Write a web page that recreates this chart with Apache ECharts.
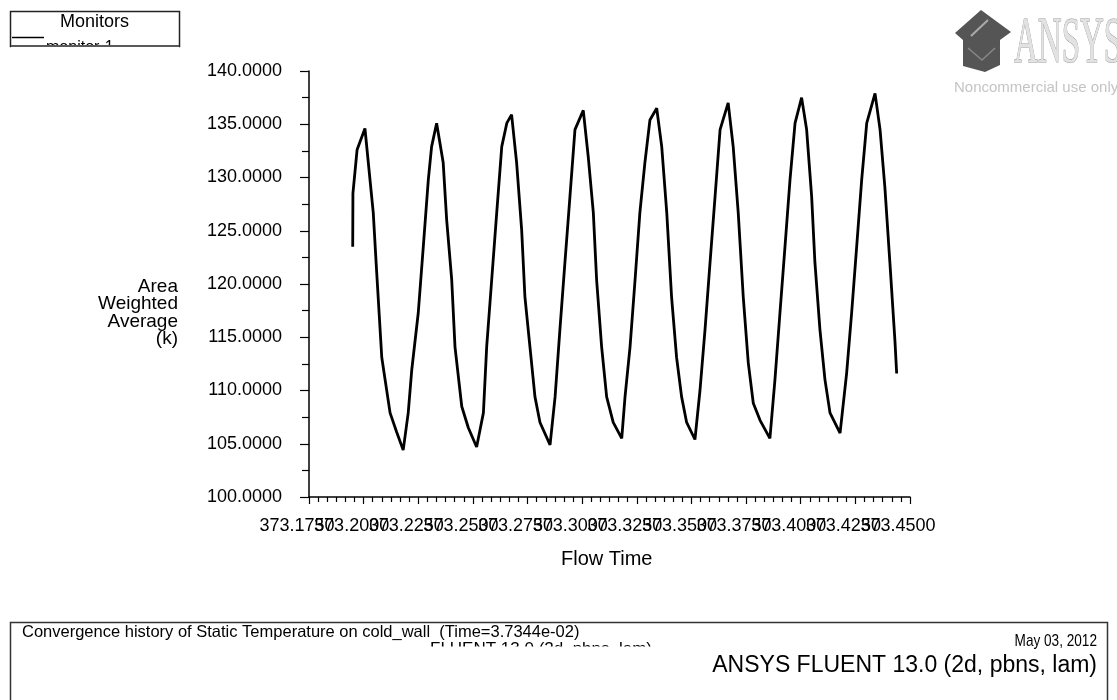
<!DOCTYPE html>
<html>
<head>
<meta charset="utf-8">
<script src="https://cdn.jsdelivr.net/npm/echarts@6/dist/echarts.min.js"></script>
<style>html,body{margin:0;padding:0;background:#fff}#c{width:1117px;height:700px}</style>
</head>
<body>
<div id="c"></div>
<script>
// ---- data ----
const flowTime = [
  373.1950,373.1951,373.1970,373.2006,373.2044,373.2060,373.2083,373.2121,373.2151,373.2181,
  373.2204,373.2220,373.2250,373.2273,373.2296,373.2311,373.2334,373.2364,373.2380,373.2403,
  373.2418,373.2449,373.2479,373.2517,373.2548,373.2563,373.2586,373.2609,373.2632,373.2655,
  373.2677,373.2700,373.2723,373.2738,373.2761,373.2784,373.2807,373.2853,373.2876,373.2898,
  373.2921,373.2944,373.2967,373.3005,373.3028,373.3051,373.3066,373.3089,373.3112,373.3142,
  373.3181,373.3196,373.3219,373.3242,373.3264,373.3287,373.3310,373.3341,373.3364,373.3387,
  373.3409,373.3432,373.3455,373.3478,373.3516,373.3539,373.3562,373.3585,373.3608,373.3631,
  373.3668,373.3691,373.3714,373.3737,373.3760,373.3783,373.3814,373.3859,373.3882,373.3905,
  373.3928,373.3951,373.3974,373.4004,373.4027,373.4050,373.4065,373.4088,373.4111,373.4134,
  373.4180,373.4210,373.4233,373.4256,373.4279,373.4302,373.4340,373.4363,373.4385,373.4408,
  373.4431,373.4439
];
const temperature = [
  123.5,128.5,132.6,134.6,126.7,121.0,113.1,107.9,106.1,104.4,
  107.9,111.9,117.3,123.5,129.8,132.9,135.1,131.4,126.0,120.4,
  114.1,108.5,106.5,104.7,107.9,114.1,120.4,126.7,132.9,135.1,
  135.9,131.4,125.1,118.8,114.1,109.4,107.0,104.9,109.4,115.7,
  122.0,128.2,134.5,136.3,131.9,126.7,120.4,114.1,109.4,107.0,
  105.5,109.4,114.1,120.4,126.7,131.4,135.4,136.5,132.9,126.7,
  118.8,113.1,109.4,107.0,105.4,110.0,115.7,122.0,128.2,134.5,
  137.0,132.9,126.7,118.8,112.6,108.8,107.2,105.5,111.0,117.3,
  123.5,129.8,135.1,137.5,134.5,128.2,122.0,115.7,111.0,107.9,
  106.0,111.6,117.3,123.5,129.8,135.1,137.9,134.5,129.1,122.0,
  114.7,111.6
];
const seriesName = 'monitor-1';
const xAxisTitle = 'Flow Time';
const yAxisTitle = ['Area', 'Weighted', 'Average', '(k)'];
const legendTitle = 'Monitors';
const footerTitle = 'Convergence history of Static Temperature on cold_wall  (Time=3.7344e-02)';
const footerHidden = 'FLUENT 13.0 (2d, pbns, lam)';
const footerDate = 'May 03, 2012';
const footerVersion = 'ANSYS FLUENT 13.0 (2d, pbns, lam)';
const logoWord = 'ANSYS';
const logoNote = 'Noncommercial use only';
const xMin = 373.175, xMax = 373.45, xStep = 0.025;
const yMin = 100, yMax = 140, yStep = 5;

const pts = flowTime.map((t, i) => [t, temperature[i]]);
const chart = echarts.init(document.getElementById('c'), null, {renderer: 'canvas'});
const labelFont = '"Liberation Sans", Arial, sans-serif';
const narrowFont = '"Liberation Sans Narrow", "Liberation Sans", Arial, sans-serif';

// tick labels overlap in the reference; split them over two coincident axes
// (even / odd ticks) so the library does not drop any of them
function tickLabel(parity) {
  return v => (Math.round((v - xMin) / xStep) % 2 === parity) ? v.toFixed(4) : '';
}
const xLabelStyle = {color: '#000', fontSize: 18, fontFamily: labelFont, margin: 20,
  showMinLabel: true, showMaxLabel: true, hideOverlap: false, padding: [0, 24, 0, 0]};

chart.setOption({
  animation: false,
  backgroundColor: '#fff',
  grid: {left: 309, right: 207, top: 71, bottom: 203},
  xAxis: [{
    type: 'value', min: xMin, max: xMax, interval: xStep, position: 'bottom', offset: 0,
    axisLine: {lineStyle: {color: '#000', width: 1.5}},
    axisTick: {length: 7, lineStyle: {color: '#000', width: 1.2}},
    minorTick: {show: true, splitNumber: 6, length: 5, lineStyle: {color: '#000', width: 1.2}},
    splitLine: {show: false},
    axisLabel: Object.assign({formatter: tickLabel(0)}, xLabelStyle)
  }, {
    type: 'value', min: xMin, max: xMax, interval: xStep, position: 'bottom', offset: 0,
    axisLine: {show: false}, axisTick: {show: false}, minorTick: {show: false},
    splitLine: {show: false},
    axisLabel: Object.assign({formatter: tickLabel(1)}, xLabelStyle)
  }],
  yAxis: {
    type: 'value', min: yMin, max: yMax, interval: yStep,
    axisLine: {show: true, lineStyle: {color: '#000', width: 1.5}},
    axisTick: {show: true, length: 9, lineStyle: {color: '#000', width: 1.2}},
    minorTick: {show: true, splitNumber: 2, length: 7, lineStyle: {color: '#000', width: 1.2}},
    splitLine: {show: false},
    axisLabel: {color: '#000', fontSize: 18, fontFamily: labelFont, margin: 27,
      showMinLabel: true, showMaxLabel: true,
      formatter: v => v.toFixed(4)}
  },
  series: [{
    name: seriesName, type: 'line', xAxisIndex: 0, data: pts, showSymbol: false,
    lineStyle: {color: '#000', width: 2.8}, clip: false
  }],
  graphic: [
    // legend box
    {type: 'rect', shape: {x: 10.5, y: 11.5, width: 169, height: 35}, style: {fill: '#fff', stroke: '#222', lineWidth: 1.5}, z: 10},
    {type: 'text', x: 60, y: 13, style: {text: legendTitle, font: '18px ' + labelFont, fill: '#000'}, z: 11},
    {type: 'line', shape: {x1: 12, y1: 37.5, x2: 44, y2: 37.5}, style: {stroke: '#000', lineWidth: 1.5}, z: 11},
    {type: 'text', x: 46, y: 40, style: {text: seriesName, font: '16px ' + labelFont, fill: '#000'}, z: 11},
    {type: 'rect', shape: {x: 11, y: 45, width: 168, height: 16}, style: {fill: '#fff'}, z: 12},
    {type: 'line', shape: {x1: 10, y1: 46, x2: 180, y2: 46}, style: {stroke: '#222', lineWidth: 1.5}, z: 13},
    // y axis title
    {type: 'text', x: 178, y: 278, style: {text: yAxisTitle.join('\n'), font: '19px ' + labelFont, fill: '#000', align: 'right', lineHeight: 17.5}},
    // x axis title
    {type: 'text', x: 561, y: 549, style: {text: xAxisTitle, font: '20px ' + labelFont, fill: '#000'}},
    // ANSYS logo
    {type: 'polygon', shape: {points: [[955,33],[981,10],[1011,32],[1000,40],[1000,65],[985,72],[963,66],[963,40]]}, style: {fill: '#555'}},
    {type: 'polyline', shape: {points: [[971,36],[988,20]]}, style: {stroke: '#aaa', lineWidth: 2}},
    {type: 'polyline', shape: {points: [[968,48],[982,60],[995,48]]}, style: {stroke: '#888', lineWidth: 1.5}},
    {type: 'text', x: 1014, y: 12, scaleX: 0.5, style: {text: logoWord, font: '66px "Liberation Serif", serif', fill: '#e2e2e2', stroke: '#9a9a9a', lineWidth: 1.2}},
    {type: 'text', x: 954, y: 80, style: {text: logoNote, font: '15px ' + narrowFont, fill: '#c4c4c4'}},
    // footer box
    {type: 'rect', shape: {x: 10.5, y: 622.5, width: 1097, height: 90}, style: {fill: 'none', stroke: '#333', lineWidth: 1.5}},
    {type: 'text', x: 22, y: 624, style: {text: footerTitle, font: '16.5px ' + narrowFont, fill: '#000'}},
    {type: 'text', x: 430, y: 641, style: {text: footerHidden, font: '17px ' + narrowFont, fill: '#000'}},
    {type: 'rect', shape: {x: 380, y: 646.5, width: 300, height: 14}, style: {fill: '#fff'}},
    {type: 'text', x: 1097, y: 633, scaleX: 0.8, style: {text: footerDate, font: '17px ' + narrowFont, fill: '#000', align: 'right'}},
    {type: 'text', x: 1097, y: 654, style: {text: footerVersion, font: '23px ' + narrowFont, fill: '#000', align: 'right'}}
  ]
});
</script>
</body>
</html>
